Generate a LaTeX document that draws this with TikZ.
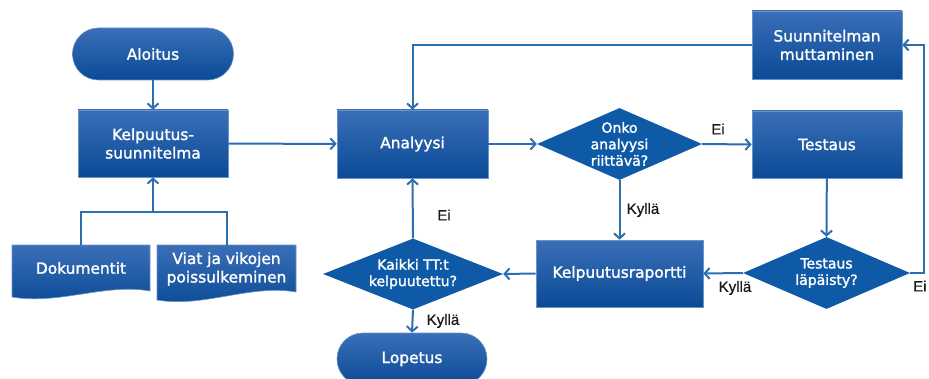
\documentclass[tikz,border=0pt]{standalone}
\usepackage{fontspec}
\setmainfont{DejaVu Sans}
\newfontfamily\shapefont[FakeBold=1.6]{DejaVu Sans}
\newfontfamily\lblfont[FakeBold=0.6]{Liberation Sans}
\usetikzlibrary{arrows.meta,shapes.geometric}

\definecolor{boxtop}{HTML}{3A6FB7}
\definecolor{boxbot}{HTML}{0A4A96}
\definecolor{boxedge}{HTML}{6A93C9}
\definecolor{decfill}{HTML}{0E5AA6}
\definecolor{linec}{HTML}{2B6EB2}

\newcommand{\boxfont}{\shapefont\fontsize{15.4}{18.5}\selectfont}
\newcommand{\decfont}{\shapefont\fontsize{14}{16.5}\selectfont}

\begin{document}
\begin{tikzpicture}[x=1pt,y=1pt,
  flow/.style={draw=linec, line width=2pt, -{Straight Barb[length=5pt,width=11pt]}},
  link/.style={draw=linec, line width=2pt},
  procbox/.style={rectangle, draw=boxedge, line width=0.6pt, top color=boxtop,
    bottom color=boxbot, text=white, font=\boxfont, align=center, inner sep=0pt},
  pill/.style={procbox, rounded corners=25.9pt, minimum width=#1, minimum height=52pt},
  docshape/.style={draw=boxedge, line width=0.6pt, top color=boxtop, bottom color=boxbot},
  doctext/.style={rectangle, text=white, font=\boxfont, align=center, inner sep=0pt},
  decision/.style={diamond, fill=decfill, inner sep=0pt},
  dtext/.style={text=white, font=\decfont, align=center, inner sep=0pt},
  lbl/.style={font=\lblfont\fontsize{15}{18}\selectfont, text=black!90, inner sep=0pt}
]
\useasboundingbox (0,0) rectangle (929,378);
\clip (0,0) rectangle (929,378);

% terminals
\node[pill=161pt] (start) at (153,324) {Aloitus};
\node[pill=150pt] (stop) at (412,19) {Lopetus};

% process boxes
\node[procbox, minimum width=150pt, minimum height=67pt] (plan) at (153,234.5) {Kelpuutus-\\suunnitelma};
\node[procbox, minimum width=151pt, minimum height=68pt] (anal) at (412.5,234) {Analyysi};
\node[procbox, minimum width=150pt, minimum height=67pt] (test) at (827,233.5) {Testaus};
\node[procbox, minimum width=150pt, minimum height=68pt] (revise) at (827,333) {Suunnitelman\\muttaminen};
\node[procbox, minimum width=167pt, minimum height=67pt] (report) at (619.5,104.5) {Kelpuutusraportti};

% document inputs
\path[docshape] (12,133) -- (150,133) -- (150,87)
  .. controls (105,95) and (60,73) .. (12,81) -- cycle;
\path[docshape] (157,133) -- (296,133) -- (296,86)
  .. controls (250,94) and (204,70) .. (157,78) -- cycle;
\node[doctext, minimum width=138pt, minimum height=46pt] (docs) at (81,110) {Dokumentit};
\node[doctext, minimum width=139pt, minimum height=46pt] (bugs) at (226.5,109) {Viat ja vikojen\\poissulkeminen};

% decisions
\node[decision, minimum width=165pt, minimum height=72pt] (qanal) at (619.5,234) {};
\node[dtext] (qanaltxt) at (qanal) {Onko\\analyysi\\riittävä?};
\node[decision, minimum width=167pt, minimum height=72pt] (qtest) at (826.5,105) {};
\node[dtext] (qtesttxt) at (qtest) {Testaus\\läpäisty?};
\node[decision, minimum width=180pt, minimum height=71pt] (qall) at (413,104) {};
\node[dtext] (qalltxt) at (qall) {Kaikki TT:t\\kelpuutettu?};

% connectors
\coordinate (fork) at (153,166);
\coordinate (rturn) at (924,105);

\draw[flow] (start) -- (plan);
\draw[link] (docs.north) |- (fork) -| (bugs.north);
\draw[flow] (fork) -- (plan.south);
\draw[flow] (plan) -- (anal);
\draw[flow] (anal) -- (qanal.west);
\draw[flow] (qanal.east) -- (test.west);
\draw[flow] (qanal.south) -- (report.north);
\draw[flow] (test) -- (qtest.north);
\draw[flow] (qtest.west) -- (report.east);
\draw[flow] (qtest.east) -- (rturn) |- (revise.east);
\draw[flow] (revise.west) -| (anal.north);
\draw[flow] (report.west) -- (qall.east);
\draw[flow] (qall.north) -- (anal.south);
\draw[flow] (qall.south) -- (stop.north);

% branch labels
\node[lbl] (l1) at (718,249) {Ei};
\node[lbl] (l2) at (643,168) {Kyllä};
\node[lbl] (l3) at (444,163) {Ei};
\node[lbl] (l4) at (443,57) {Kyllä};
\node[lbl] (l5) at (735,90) {Kyllä};
\node[lbl, anchor=west] (l6) at (913,92) {Ei};
\end{tikzpicture}
\end{document}
